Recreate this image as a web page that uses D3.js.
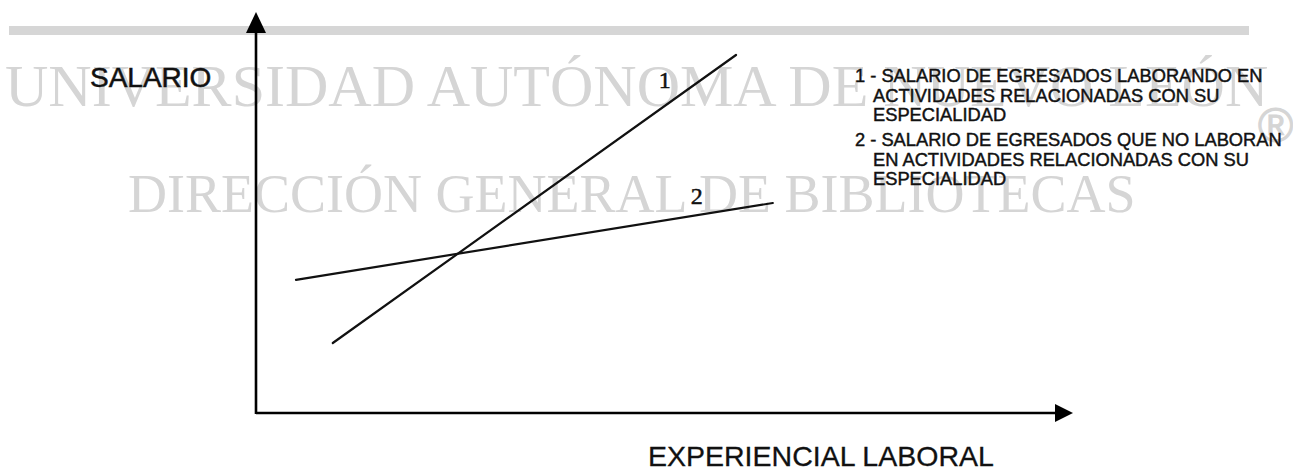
<!DOCTYPE html>
<html>
<head>
<meta charset="utf-8">
<script src="https://cdn.jsdelivr.net/npm/d3@7"></script>
<style>
  html, body { margin: 0; padding: 0; background: #fff; }
  svg { display: block; }
</style>
</head>
<body>
<svg id="chart" width="1293" height="472"></svg>
<script>
// ---- Data (arbitrary units, schematic chart) ----
const series1 = [{x: 0.96, y: 1.75}, {x: 6.0, y: 8.95}];   // 1 - laborando en su especialidad
const series2 = [{x: 0.50, y: 3.33}, {x: 6.46, y: 5.25}];   // 2 - no laboran en su especialidad
const seriesLabels = ["1", "2"];
const labelPos = [{x: 5.11, y: 8.12}, {x: 5.51, y: 5.22}];
const legendLines1 = ["1 - SALARIO DE EGRESADOS LABORANDO EN", "ACTIVIDADES RELACIONADAS CON SU", "ESPECIALIDAD"];
const legendLines2 = ["2 - SALARIO DE EGRESADOS QUE NO LABORAN", "EN ACTIVIDADES RELACIONADAS CON SU", "ESPECIALIDAD"];
const yTitle = "SALARIO";
const xTitle = "EXPERIENCIAL LABORAL";
const watermark1 = "UNIVERSIDAD AUTÓNOMA DE NUEVO LEÓN";
const watermark2 = "DIRECCIÓN GENERAL DE BIBLIOTECAS";

const svg = d3.select("#chart");

const x = d3.scaleLinear().domain([0, 10]).range([256, 1056]);
const y = d3.scaleLinear().domain([0, 10]).range([413, 13]);

// ---- Watermark layer ----
const wm = svg.append("g").attr("fill", "#d5d5d5");
wm.append("rect").attr("x", 9).attr("y", 26).attr("width", 1240).attr("height", 9).attr("fill", "#d6d6d6");
wm.append("text").attr("x", 5).attr("y", 106)
  .attr("font-family", "'Liberation Serif', 'DejaVu Serif', serif").attr("font-size", 60)
  .text(watermark1);
wm.append("text").attr("x", 128).attr("y", 212)
  .attr("font-family", "'Liberation Serif', 'DejaVu Serif', serif").attr("font-size", 54)
  .text(watermark2);
wm.append("text").attr("x", 1258).attr("y", 142)
  .attr("font-family", "'Liberation Sans', sans-serif").attr("font-size", 48)
  .attr("stroke", "#d5d5d5").attr("stroke-width", 1)
  .text("®");

// ---- Axes with arrows ----
const axes = svg.append("g").attr("stroke", "#000").attr("stroke-width", 2.6).attr("fill", "none");
axes.append("line").attr("x1", x(0)).attr("y1", y(0) + 1).attr("x2", x(0)).attr("y2", y(10) + 14);
axes.append("line").attr("x1", x(0)).attr("y1", y(0)).attr("x2", x(10)).attr("y2", y(0));
svg.append("path")
  .attr("d", `M${x(0)},${y(10) - 1} L${x(0) - 10},${y(10) + 20} L${x(0) + 10},${y(10) + 20} Z`)
  .attr("fill", "#000");
svg.append("path")
  .attr("d", `M${x(10) + 17},${y(0)} L${x(10) - 1},${y(0) - 9} L${x(10) - 1},${y(0) + 9} Z`)
  .attr("fill", "#000");

// ---- Lines ----
const line = d3.line().x(d => x(d.x)).y(d => y(d.y));
[series1, series2].forEach(s => {
  svg.append("path").datum(s).attr("d", line)
    .attr("fill", "none").attr("stroke", "#111").attr("stroke-width", 2.2).attr("stroke-linecap", "round");
});

// ---- Series number labels ----
svg.selectAll("text.num").data(seriesLabels).enter().append("text")
  .attr("class", "num")
  .attr("x", (d, i) => x(labelPos[i].x))
  .attr("y", (d, i) => y(labelPos[i].y))
  .attr("text-anchor", "middle")
  .attr("font-family", "'Liberation Serif', serif").attr("font-size", 24)
  .attr("fill", "#111").attr("stroke", "#111").attr("stroke-width", 0.5)
  .text(d => d);

// ---- Axis titles ----
svg.append("text").attr("x", 90).attr("y", 87)
  .attr("font-family", "'Liberation Sans', Arial, sans-serif").attr("font-size", 28)
  .attr("fill", "#111").attr("stroke", "#111").attr("stroke-width", 0.5).text(yTitle);
svg.append("text").attr("x", 648).attr("y", 466)
  .attr("font-family", "'Liberation Sans', Arial, sans-serif").attr("font-size", 28.5)
  .attr("fill", "#111").attr("stroke", "#111").attr("stroke-width", 0.3).text(xTitle);

// ---- Legend ----
const lg = svg.append("g")
  .attr("font-family", "'Liberation Sans', Arial, sans-serif").attr("font-size", 18.3)
  .attr("fill", "#111").attr("stroke", "#111").attr("stroke-width", 0.45);
function legendBlock(lines, y0) {
  lines.forEach((t, i) => {
    lg.append("text").attr("x", i === 0 ? 855 : 873).attr("y", y0 + i * 19.5).text(t);
  });
}
legendBlock(legendLines1, 82);
legendBlock(legendLines2, 146);
</script>
</body>
</html>
